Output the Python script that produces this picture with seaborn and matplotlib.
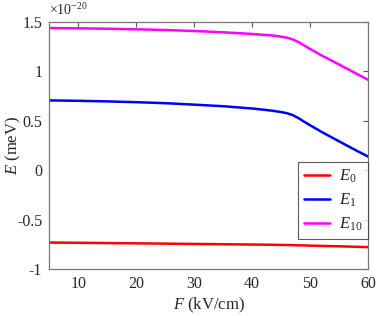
import numpy as np
import pandas as pd
import matplotlib
matplotlib.use('Agg')
import matplotlib.pyplot as plt
import seaborn as sns

# field values (kV/cm) and energies in units of 1e-20 meV
F = [5, 10, 15, 20, 25, 30, 35, 40, 43, 44, 45, 46, 47, 48, 49, 50, 52, 55, 58, 60]
E0 = [-0.733, -0.735, -0.738, -0.741, -0.744, -0.747, -0.750, -0.753, -0.755,
      -0.756, -0.757, -0.758, -0.759, -0.761, -0.762, -0.764, -0.767, -0.771,
      -0.776, -0.779]
E1 = [0.707, 0.703, 0.697, 0.689, 0.679, 0.664, 0.648, 0.625, 0.606,
      0.598, 0.589, 0.577, 0.558, 0.527, 0.490, 0.455, 0.387, 0.292, 0.198, 0.138]
E10 = [1.440, 1.437, 1.433, 1.427, 1.420, 1.410, 1.397, 1.380, 1.367,
       1.361, 1.353, 1.342, 1.325, 1.297, 1.262, 1.228, 1.162, 1.070, 0.977, 0.915]

series = {'$E_0$': E0, '$E_1$': E1, '$E_{10}$': E10}
colors = ['#ff0000', '#0000ff', '#ff00ff']

df = pd.concat([pd.DataFrame({'F': F, 'E': v, 'level': k}) for k, v in series.items()])

sns.set_style('white')
plt.rcParams['font.family'] = ['Liberation Serif', 'DejaVu Serif']
plt.rcParams['mathtext.fontset'] = 'custom'
plt.rcParams['mathtext.rm'] = 'Liberation Serif'
plt.rcParams['mathtext.it'] = 'Liberation Serif:italic'

fig = plt.figure(figsize=(3.78, 3.16), dpi=100)
ax = fig.add_axes([0.130, 0.149, 0.844, 0.781])

sns.lineplot(data=df, x='F', y='E', hue='level', palette=colors, linewidth=1.8, ax=ax)

ax.set_xlim(5, 60)
ax.set_ylim(-1, 1.5)
ax.set_xticks([10, 20, 30, 40, 50, 60])
ax.set_yticks([-1, -0.5, 0, 0.5, 1, 1.5])
ax.set_yticklabels(['-1', '-0.5', '0', '0.5', '1', '1.5'])
ax.tick_params(direction='in', top=True, right=True, length=3.5, width=0.8,
               color='#555555', labelsize=11.5, pad=5)
for s in ax.spines.values():
    s.set_color('#777777')
    s.set_linewidth(0.9)

ax.set_xlabel('$F$ (kV/cm)', fontsize=12, labelpad=3)
ax.set_ylabel('$E$ (meV)', fontsize=12)
ax.yaxis.set_label_coords(-0.082, 0.5)
ax.text(0.0, 1.015, r'$\times10^{-20}$', transform=ax.transAxes, fontsize=10,
        ha='left', va='bottom')

leg = ax.legend(loc='lower right', bbox_to_anchor=(1.0, 0.12), fontsize=12,
                frameon=True, fancybox=False, handlelength=1.6, handletextpad=0.5,
                borderpad=0.35, labelspacing=0.4, borderaxespad=0)
leg.get_frame().set_edgecolor('#333333')
leg.get_frame().set_linewidth(0.8)
leg.set_title(None)

fig.savefig('out.png', dpi=100)
